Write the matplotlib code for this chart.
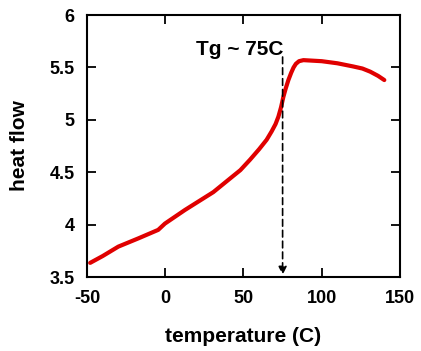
import numpy as np
import matplotlib.pyplot as plt

plt.rcParams['font.family'] = ['Liberation Sans', 'DejaVu Sans']
plt.rcParams['font.weight'] = 'bold'
plt.rcParams['axes.unicode_minus'] = False

# values
temperature = [-48, -40, -30, -17, -4.5, -0.2, 12.6, 30.7, 41.4, 48, 54.2, 60, 64.8, 68, 70.5,
               72.3, 74, 75.5, 77, 78.7, 80.5, 82, 83.5, 85.5, 88.3, 100, 110, 120, 126, 131,
               136, 140]
heat_flow = [3.635, 3.70, 3.79, 3.87, 3.95, 4.01, 4.14, 4.31, 4.44, 4.52, 4.62, 4.72, 4.81,
             4.89, 4.96, 5.03, 5.12, 5.22, 5.30, 5.38, 5.45, 5.50, 5.535, 5.56, 5.57, 5.56,
             5.54, 5.51, 5.49, 5.46, 5.42, 5.38]

tg = 75
x_ticks = [-50, 0, 50, 100, 150]
y_ticks = [3.5, 4, 4.5, 5, 5.5, 6]
y_tick_labels = ['3.5', '4', '4.5', '5', '5.5', '6']

fig = plt.figure(figsize=(4.21, 3.51), dpi=100)
ax = fig.add_axes([0.2067, 0.2108, 0.7433, 0.7462])

ax.plot(temperature, heat_flow, color='#e00000', linewidth=3, solid_capstyle='round',
        solid_joinstyle='round')

# dashed arrow marking Tg
ax.annotate('', xy=(tg, 3.52), xytext=(tg, 5.60),
            arrowprops=dict(arrowstyle='-|>', linestyle=(0, (4, 2.5)), color='black',
                            linewidth=1.2, mutation_scale=12, shrinkA=0, shrinkB=0))
ax.text(tg + 0.5, 5.62, 'Tg ~ 75C', ha='right', va='baseline', fontsize=15, fontweight='bold')

ax.set_xlim(-50, 150)
ax.set_ylim(3.5, 6)
ax.set_xticks(x_ticks)
ax.set_yticks(y_ticks)
ax.set_yticklabels(y_tick_labels)
ax.tick_params(direction='in', length=6.5, width=1.3, top=True, right=True,
               labelsize=13, pad=9)
for s in ax.spines.values():
    s.set_linewidth(1.5)

ax.set_xlabel('temperature (C)', fontsize=15, fontweight='bold', labelpad=15)
ax.set_ylabel('heat flow', fontsize=15, fontweight='bold', labelpad=15)

fig.savefig('out.png', dpi=100)
